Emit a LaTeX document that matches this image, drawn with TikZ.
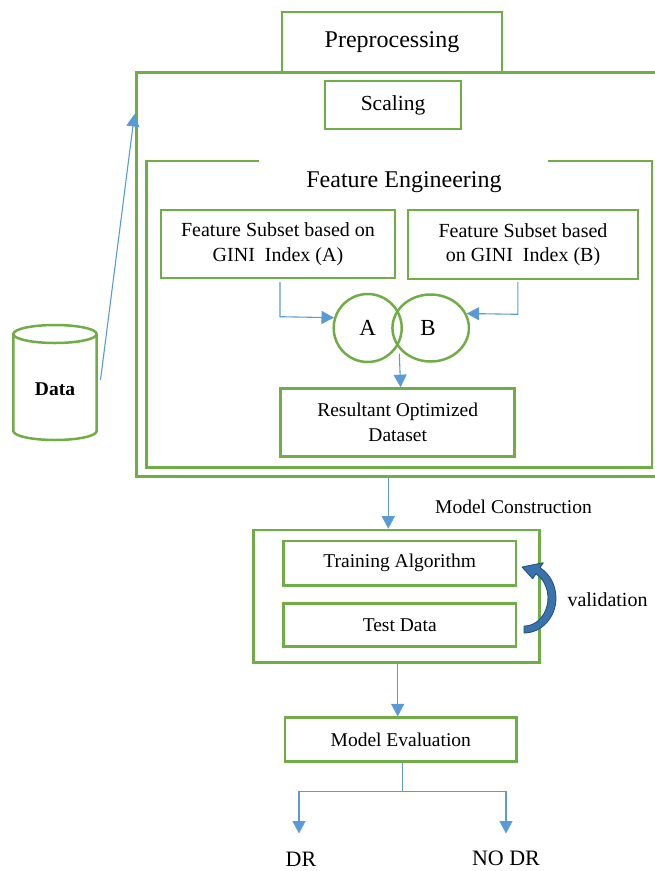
\documentclass[tikz,border=0pt]{standalone}
\usepackage{fontspec}
\setmainfont{Liberation Serif}
\usetikzlibrary{arrows.meta,shapes.geometric}
\definecolor{gr}{HTML}{70AD47}
\definecolor{bl}{HTML}{5B9BD5}
\definecolor{cvfill}{HTML}{3A72AD}
\definecolor{cvline}{HTML}{1F4E79}
\begin{document}
\begin{tikzpicture}[x=1pt,y=-1pt,
  gbox/.style={draw=gr,line width=2.5pt,inner sep=0pt,align=center,font=\fontsize{19.5}{24.5}\selectfont},
  gline/.style={draw=gr,line width=2.5pt},
  barrow/.style={draw=bl,line width=1.1pt,-{Triangle[length=12.5pt,width=13pt]}},
  bline/.style={draw=bl,line width=1.1pt},
  lbl/.style={inner sep=0pt,font=\fontsize{19.5}{24}\selectfont}]
\useasboundingbox (0,0) rectangle (655,871);
% outer preprocessing frame
\node[gbox,minimum width=524pt,minimum height=404pt] (outer) at (398.5,274.5) {};
\node[gbox,fill=white,minimum width=220pt,minimum height=60pt,font=\fontsize{24}{28}\selectfont] (pre) at (392,42) {Preprocessing};
\node[gbox,minimum width=136pt,minimum height=48pt,font=\fontsize{21.5}{26}\selectfont] (scal) at (393,105) {Scaling};
% feature engineering frame with gap
\coordinate (fe1) at (258.5,160.8);
\coordinate (fe2) at (548.4,160.8);
\draw[gline] (fe1) -- (146.7,160.8) -- (146.7,467.5) -- (652,467.5) -- (652,160.8) -- (fe2);
\node[lbl,font=\fontsize{24}{28}\selectfont] (fe) at (404,182) {Feature Engineering};
\node[gbox,minimum width=234pt,minimum height=68pt,font=\fontsize{20}{24.5}\selectfont] (fsa) at (278,244) {Feature Subset based on\\GINI\ \ Index (A)};
\node[gbox,minimum width=230pt,minimum height=69pt,font=\fontsize{20}{24.5}\selectfont] (fsb) at (523,244.5) {Feature Subset based\\on GINI\ \ Index (B)};
\node[draw=gr,line width=2.5pt,circle,minimum size=68pt,inner sep=0pt,font=\fontsize{23}{26}\selectfont] (ca) at (367.7,328) {A};
\node[draw=gr,line width=2.5pt,ellipse,minimum width=76.5pt,minimum height=67pt,inner sep=0pt] (cb) at (430.7,328) {};
\node[inner sep=0pt,font=\fontsize{23}{26}\selectfont] (cbl) at (428,328) {B};
\coordinate (a1) at (280,282);
\coordinate (b1) at (517.8,282);
\coordinate (ab) at (399.3,353.7);
\draw[barrow] (a1) -- (280,316.7) -- (ca.163);
\draw[barrow] (b1) -- (517.8,314.3) -- (cb.22);
\node[gbox,minimum width=234pt,minimum height=68pt] (res) at (397.7,422.4) {Resultant Optimized\\Dataset};
\draw[barrow] (ab) -- (res.north -| 400.6,0);
% data cylinder
\draw[gline] (13.3,334) -- (13.3,431) arc (180:0:41.7 and 9) -- (96.7,334);
\draw[gline] (55,334) ellipse (41.7 and 9);
\node[lbl,font=\bfseries\fontsize{19.5}{24}\selectfont] (data) at (55,389) {Data};
\coordinate (d1) at (100.5,380);
\coordinate (d2) at (134.5,114);
\draw[barrow] (d1) -- (d2);
% model construction
\coordinate (o1) at (388.3,476.5);
\node[gbox,minimum width=286pt,minimum height=132.7pt] (mc) at (396.3,596.3) {};
\draw[barrow] (o1) -- (mc.north -| o1);
\node[lbl] (mcl) at (513.5,507.3) {Model Construction};
\node[gbox,minimum width=232.7pt,minimum height=44.7pt] (tr) at (399.7,563.3) {Training Algorithm};
\node[gbox,minimum width=232.7pt,minimum height=43.4pt] (td) at (399.7,625) {Test Data};
\node[lbl,font=\fontsize{20}{24}\selectfont] (val) at (607.5,600) {validation};
% curved validation arrow
\filldraw[fill=cvfill,draw=cvline,line width=0.8pt,line join=round]
  (524,633) arc (90:-60:32 and 35) -- (543.3,562.7) -- (522,567) -- (532.7,578.8)
  -- (536,573.8) arc (-60:90:24 and 28) -- cycle;
% model evaluation
\node[gbox,minimum width=231.7pt,minimum height=44pt] (ev) at (400.8,739.7) {Model Evaluation};
\draw[barrow] (mc.south -| 397.7,0) -- (ev.north -| 397.7,0);
\node[lbl,font=\fontsize{22}{26}\selectfont] (dr) at (301,859) {DR};
\node[lbl,font=\fontsize{22}{26}\selectfont] (nodr) at (506,858) {NO DR};
\coordinate (br) at (402.3,791.7);
\coordinate (brl) at (299,791.7);
\coordinate (brr) at (506,791.7);
\coordinate (tl) at (299,833.5);
\coordinate (tr2) at (506,833.5);
\draw[bline] (ev.south -| br) -- (br);
\draw[barrow] (br) -- (brl) -- (tl);
\draw[barrow] (br) -- (brr) -- (tr2);
\end{tikzpicture}
\end{document}
